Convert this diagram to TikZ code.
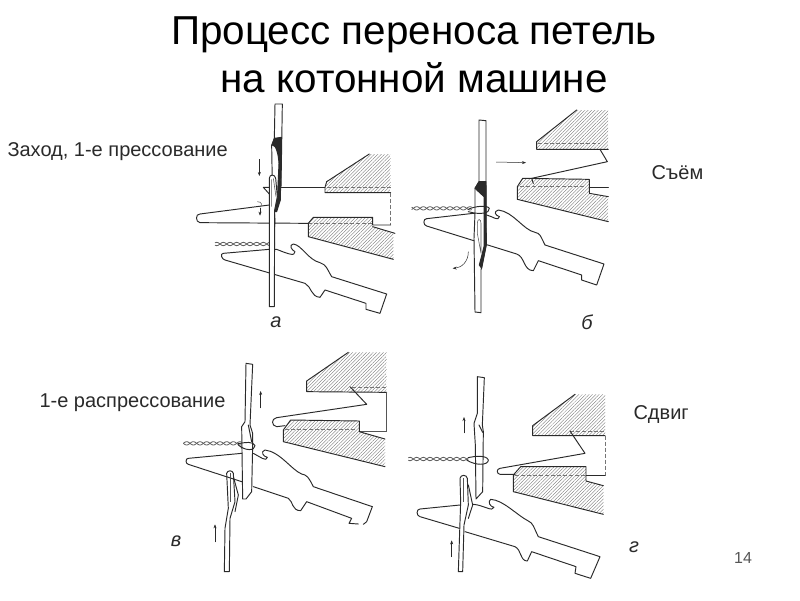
\documentclass[tikz,border=0pt]{standalone}
\usepackage{fontspec}
\setmainfont{Liberation Sans}
\usetikzlibrary{patterns.meta,arrows.meta}
\definecolor{ink}{HTML}{2A2A2A}
\tikzset{
  ln/.style={draw=ink,line width=0.95pt,line join=round,line cap=round},
  fine/.style={draw=ink!80,line width=0.55pt},
  hatch/.style={pattern={Lines[angle=45,distance=2.4pt,line width=0.35pt]},pattern color=black!55,draw=none},
  dsh/.style={draw=ink!65,line width=0.5pt,dash pattern=on 4pt off 2pt},
  arr/.style={draw=ink,line width=0.5pt,-{Stealth[length=4pt,width=3pt]}},
  blk/.style={ln,fill=ink},
  yarn/.style={draw=ink!75,line width=0.8pt},
  ttl/.style={font=\fontsize{40.4}{48}\selectfont,align=center,text=black},
  lbl/.style={font=\fontsize{20}{24}\selectfont,text=ink},
  let/.style={font=\fontsize{20}{24}\selectfont\itshape,text=ink},
  panel/.style={x=0.33333pt,y=-0.33333pt}
}
\newcommand{\twist}[3]{% x0, x1, y in zoom coordinates
  \draw[yarn] plot[domain=#1:#2,samples=60,smooth] (\x,{#3+5*sin(\x*9)});
  \draw[yarn] plot[domain=#1:#2,samples=60,smooth] (\x,{#3-5*sin(\x*9)});
}
\begin{document}
\begin{tikzpicture}[x=1pt,y=-1pt]
\useasboundingbox (0,0) rectangle (800,600);
\fill[white] (0,0) rectangle (800,600);
\node[ttl] (title) at (414,55) {Процесс переноса петель\\на котонной машине};
\node[lbl,anchor=west] (l1) at (4,152) {Заход, 1-е прессование};
\node[lbl,anchor=west] (l2) at (648,173) {Съём};
\node[lbl,anchor=west] (l3) at (36,403) {1-е распрессование};
\node[lbl,anchor=west] (l4) at (630,415) {Сдвиг};
\node[let] (a) at (276,322) {а};
\node[let] (b) at (587,322) {б};
\node[let] (c) at (176,541) {в};
\node[let] (d) at (634,547) {г};
\node[font=\fontsize{16}{18}\selectfont,text=ink!80] (n) at (743,558) {14};

% panel a
\begin{scope}[shift={(180,100)},panel]
\fill[hatch] (568,162)--(440,245)--(435,278)--(632,278)--(632,162)--cycle;
\fill[hatch] (400,352)--(578,352)--(578,380)--(640,400)--(640,478)--(385,410)--(385,370)--cycle;
\draw[ln] (632,162) (568,162)--(440,245)--(435,262)--(435,278)--(632,278);
\draw[dsh] (440,262)--(632,262);
\draw[dsh] (385,370)--(578,370);
\draw[dsh] (632,278)--(632,375);
\draw[ln] (640,478)--(385,410)--(385,370)--(400,352)--(578,352)--(578,375)--(632,375);
\draw[ln] (578,380)--(645,400);
\draw[ln] (303,262)--(435,262);
\draw[ln] (268,315)--(60,342) to[out=175,in=175,looseness=1.4] (60,368)--(385,370);
\draw[ln] (250,262)--(272,262) (250,262)--(268,282);
% jack
\draw[ln,fill=white] (268,448)--(130,460) to[out=180,in=170,looseness=1.3] (135,480)--(375,550)
  .. controls (395,560) and (392,590) .. (420,592)--(435,570)--(558,610)--(558,628)--(600,640)--(620,582)--(455,530)
  .. controls (440,505) and (440,495) .. (420,488) .. controls (385,480) and (365,435) .. (340,432)
  .. controls (325,435) and (335,450) .. (345,455) .. controls (345,470) and (325,462) .. (290,448)--cycle;
\twist{105}{285}{432}
% needle
\draw[ln] (303,262)--(307,12)--(285,12)--(283,115)--(275,135)--(278,320);
\path[blk] (283,115)--(304,112)--(303,200)--(301,300)--(290,335)--(280,335)--(292,300)--(297,190) .. controls (295,160) and (288,135) .. (277,135)--cycle;
\draw[ln] (283,335)--(285,365)--(280,420);
% second needle
\draw[ln,fill=white] (268,620)--(268,235) .. controls (268,222) and (285,222) .. (287,235)--(292,290)--(284,330)--(283,620)--cycle;
\draw[fine] (274,238)--(274,320) (280,235)--(288,290);
\draw[arr] (238,178)--(238,228);
\draw[arr] (240,325)--(240,347);
\draw[fine] (232,305) .. controls (245,305) and (248,315) .. (240,322);
\end{scope}

% panel b
\begin{scope}[shift={(400,100)},panel]
\fill[hatch] (530,30)--(410,125)--(410,148)--(625,148)--(625,30)--cycle;
\fill[hatch] (368,235)--(568,238)--(568,285)--(625,290)--(625,365)--(352,298)--(352,260)--cycle;
\draw[ln] (530,30)--(410,125)--(410,148)--(625,148);
\draw[dsh] (415,130)--(600,130) (360,260)--(555,260);
\draw[ln] (600,148)--(622,185)--(395,235)--(400,250);
\draw[ln] (625,365)--(352,298)--(352,260)--(368,235)--(568,238)--(568,280)--(625,290);
\draw[ln] (568,262)--(625,262);
\draw[ln,fill=white] (220,340)--(80,356) to[out=180,in=170,looseness=1.3] (80,378)--(350,462)
  .. controls (375,470) and (370,512) .. (400,512)--(415,482)--(545,525)--(545,540)--(590,555)--(612,492)--(435,435)
  .. controls (420,405) and (420,400) .. (405,397) .. controls (370,390) and (340,335) .. (295,330)
  .. controls (280,335) and (285,345) .. (298,350) .. controls (295,365) and (280,350) .. (260,345)--cycle;
\draw[ln,fill=white] (237,60)--(258,62)--(258,435)--(243,510)--(243,638)--(225,636)--(222,415)--(225,340)--(225,265)--(237,245)--cycle;
\path[blk] (237,245)--(258,245)--(259,435)--(245,505)--(238,495)--(252,440)--(252,290)--(225,265)--cycle;
\draw[fine] (232,370) .. controls (232,355) and (243,355) .. (243,370)--(243,460)--(232,400)--cycle;
\twist{35}{215}{325}
\draw[ln] (205,335) .. controls (240,345) and (270,340) .. (268,325) .. controls (262,315) and (225,318) .. (205,328);
\draw[arr] (288,186)--(378,188);
\draw[arr] (205,455) .. controls (205,485) and (185,503) .. (158,505);
\end{scope}

% panel v
\begin{scope}[shift={(170,345)},panel]
\fill[hatch] (535,22)--(410,108)--(410,140)--(650,142)--(650,22)--cycle;
\fill[hatch] (362,225)--(568,228)--(568,260)--(645,282)--(645,365)--(340,290)--(340,255)--cycle;
\draw[ln] (535,22)--(410,108)--(410,140)--(650,142);
\draw[fine] (650,142)--(650,258)--(570,258);
\draw[dsh] (545,127)--(650,127) (345,253)--(560,253);
\draw[ln] (540,125)--(590,178)--(320,218) to[out=190,in=170,looseness=1.6] (320,245)--(345,242);
\draw[ln] (645,365)--(340,290)--(340,255)--(362,225)--(568,228)--(568,260)--(645,282);
% jack
\draw[ln] (215,325)--(55,340) to[out=180,in=170,looseness=1.3] (55,358)--(215,410);
\draw[ln] (250,425)--(355,460) .. controls (370,470) and (365,497) .. (392,497)--(410,470)--(545,520)--(537,535)--(565,537);
\draw[ln] (580,538)--(590,530)--(607,485)--(430,425) .. controls (415,395) and (410,390) .. (395,387) .. controls (365,375) and (330,320) .. (285,315)
  .. controls (270,320) and (280,335) .. (292,337) .. controls (290,352) and (270,335) .. (250,325);
\draw[ln] (228,55)--(248,58)--(240,240)--(248,265)--(248,300)--(245,440)--(228,462)--(218,462)--(215,245)--(225,230)--cycle;
\draw[ln] (235,240)--(245,290);
\draw[ln] (163,680)--(178,680)--(180,520)--(195,470)--(190,385) .. controls (188,375) and (172,375) .. (170,385)--(175,490)--(165,550)--cycle;
\draw[fine] (180,385)--(180,470);
\draw[ln] (190,395)--(205,450)--(195,500);
\twist{40}{215}{295}
\draw[ln] (205,300) .. controls (225,318) and (255,318) .. (255,302) .. controls (250,288) and (225,292) .. (205,296);
\draw[arr] (272,190)--(272,138);
\draw[arr] (135,592)--(135,538);
\end{scope}

% panel g
\begin{scope}[shift={(400,345)},panel]
\fill[hatch] (525,148)--(398,242)--(398,272)--(615,272)--(615,148)--cycle;
\fill[hatch] (362,365)--(558,365)--(558,408)--(610,422)--(610,508)--(340,440)--(340,390)--cycle;
\draw[ln] (525,148)--(398,242)--(398,272)--(615,272);
\draw[dsh] (510,258)--(615,258) (345,390)--(555,390) (615,272)--(615,392);
\draw[ln] (510,258)--(555,325)--(300,370) to[out=190,in=170,looseness=1.6] (300,388)--(345,388);
\draw[ln] (610,508)--(340,440)--(340,390)--(362,365)--(558,365)--(558,408)--(610,422);
\draw[ln] (558,392)--(615,392);
\draw[ln] (180,480)--(60,492) to[out=180,in=170,looseness=1.3] (60,515)--(178,550);
\draw[ln] (195,560)--(345,605) .. controls (365,615) and (360,648) .. (382,648)--(395,620)--(528,665)--(525,685)--(572,700)--(600,635)--(415,575)
  .. controls (400,545) and (400,535) .. (385,528) .. controls (350,510) and (310,465) .. (272,463)
  .. controls (262,470) and (270,485) .. (282,487) .. controls (278,502) and (250,480) .. (220,478);
\draw[ln] (232,95)--(253,98)--(247,240)--(250,260)--(248,440)--(228,462)--(226,300)--(222,235)--(232,205)--cycle;
\draw[ln] (237,240)--(248,262);
\draw[ln] (175,680)--(188,680)--(192,540)--(205,480)--(202,400) .. controls (200,388) and (182,388) .. (180,400)--(182,470)--cycle;
\draw[fine] (190,400)--(190,470);
\draw[ln] (205,420)--(218,480)--(205,520);
\twist{25}{205}{342}
\draw[ln] (200,345) .. controls (225,362) and (265,362) .. (265,345) .. controls (260,330) and (225,333) .. (205,338);
\draw[arr] (192,265)--(192,216);
\draw[arr] (155,636)--(155,586);
\end{scope}
\end{tikzpicture}
\end{document}
